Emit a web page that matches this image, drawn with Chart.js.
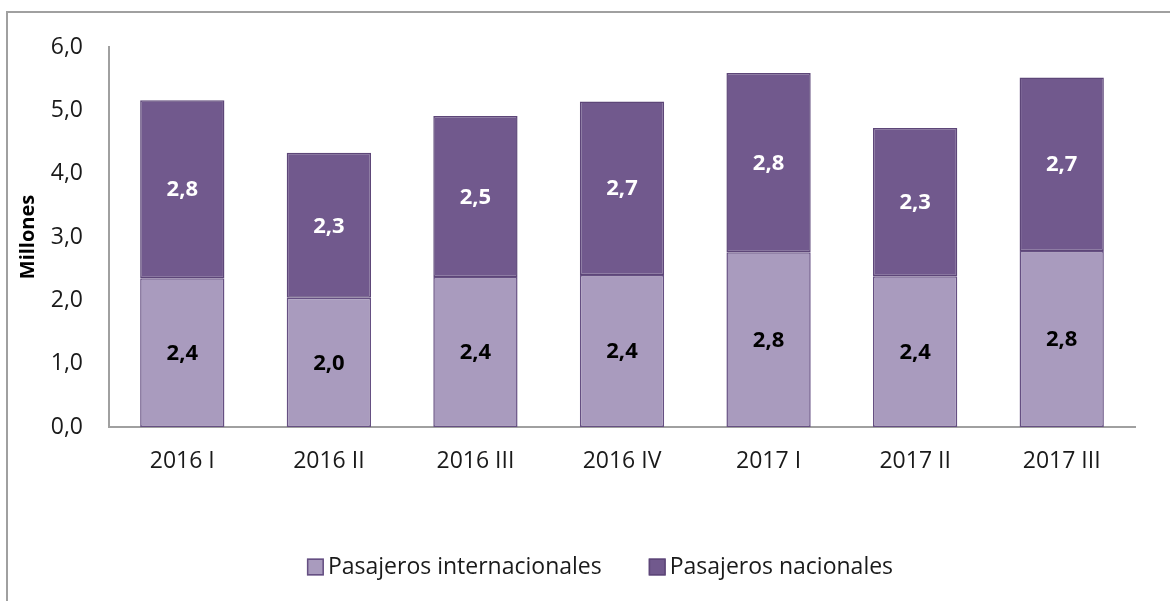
<!DOCTYPE html>
<html>
<head>
<meta charset="utf-8">
<script src="https://cdn.jsdelivr.net/npm/chart.js@4/dist/chart.umd.min.js"></script>
<style>
  html, body { margin: 0; padding: 0; background: #fff; overflow: hidden; }
  #frame { position: absolute; left: 6px; top: 11px; width: 1300px; height: 700px;
           border-left: 2px solid #a0a0a0; border-top: 2px solid #a0a0a0; }
  #wrap { position: absolute; left: 0; top: 0; width: 1170px; height: 601px; }
</style>
</head>
<body>
<div id="frame"></div>
<div id="wrap"><canvas id="c" width="1170" height="601"></canvas></div>
<script>
// periods (quarters)
const categories = ['2016 I', '2016 II', '2016 III', '2016 IV', '2017 I', '2017 II', '2017 III'];
// millions of passengers
const internacionales = [2.35, 2.04, 2.37, 2.40, 2.76, 2.38, 2.78];
const nacionales = [2.81, 2.29, 2.54, 2.74, 2.83, 2.34, 2.74];
const seriesNames = ['Pasajeros internacionales', 'Pasajeros nacionales'];
const yTicks = [0, 1, 2, 3, 4, 5, 6];

const FONT = "'Open Sans', 'Noto Sans', sans-serif";
const fmt = v => v.toFixed(1).replace('.', ',');

// values written inside each bar segment
const segmentLabels = {
  id: 'segmentLabels',
  afterDatasetsDraw(chart) {
    const ctx = chart.ctx;
    ctx.save();
    ctx.font = 'bold 22px ' + FONT;
    ctx.textAlign = 'center';
    ctx.textBaseline = 'middle';
    chart.data.datasets.forEach((ds, i) => {
      const meta = chart.getDatasetMeta(i);
      ctx.fillStyle = ds.labelColor;
      meta.data.forEach((bar, j) => {
        const y = (bar.y + bar.base) / 2;
        ctx.fillText(fmt(ds.data[j]), bar.x, y + 1);
      });
    });
    ctx.restore();
  }
};

// legend drawn below the plot, spaced like the original
const bottomLegend = {
  id: 'bottomLegend',
  afterDraw(chart) {
    const ctx = chart.ctx;
    const box = 17, gapText = 4, gapItem = 47, cy = 567;
    ctx.save();
    ctx.font = '23px ' + FONT;
    ctx.textBaseline = 'middle';
    const items = chart.data.datasets.map(ds => ({
      ds, w: ctx.measureText(ds.label).width
    }));
    let total = 0;
    items.forEach((it, k) => { total += box + gapText + it.w + (k ? gapItem : 0); });
    let x = 600 - total / 2;
    items.forEach(it => {
      ctx.fillStyle = it.ds.backgroundColor;
      ctx.strokeStyle = it.ds.borderColor;
      ctx.lineWidth = 1.5;
      ctx.fillRect(x, cy - box / 2, box, box);
      ctx.strokeRect(x + 0.75, cy - box / 2 + 0.75, box - 1.5, box - 1.5);
      ctx.fillStyle = '#1a1a1a';
      ctx.fillText(it.ds.label, x + box + gapText, cy);
      x += box + gapText + it.w + gapItem;
    });
    ctx.restore();
  }
};

new Chart(document.getElementById('c'), {
  type: 'bar',
  data: {
    labels: categories,
    datasets: [
      {
        label: seriesNames[0],
        data: internacionales,
        backgroundColor: '#a99bbe',
        borderColor: '#654f82',
        borderWidth: 1.5,
        borderSkipped: false,
        labelColor: '#000',
        barPercentage: 0.575,
        categoryPercentage: 1,
      },
      {
        label: seriesNames[1],
        data: nacionales,
        backgroundColor: '#71598d',
        borderColor: '#5d4678',
        borderWidth: 1.5,
        borderSkipped: false,
        labelColor: '#fff',
        barPercentage: 0.575,
        categoryPercentage: 1,
      },
    ],
  },
  options: {
    responsive: false,
    animation: false,
    layout: { padding: { left: 0, top: 47, right: 35, bottom: 0 } },
    plugins: { legend: { display: false }, tooltip: { enabled: false } },
    scales: {
      x: {
        stacked: true,
        grid: { display: false, drawTicks: false },
        border: { display: true, color: '#a0a0a0', width: 2 },
        ticks: { color: '#1a1a1a', font: { family: FONT, size: 23 }, padding: 21 },
        afterFit: s => { s.height = 601 - 427; },
      },
      y: {
        stacked: true,
        min: 0,
        max: 6,
        afterBuildTicks: s => { s.ticks = yTicks.map(v => ({ value: v })); },
        grid: { display: false, drawTicks: false },
        border: { display: true, color: '#a0a0a0', width: 2 },
        ticks: { color: '#1a1a1a', font: { family: FONT, size: 23 }, padding: 26, callback: v => fmt(v) },
        title: {
          display: true,
          text: 'Millones',
          color: '#000',
          font: { family: FONT, size: 20, weight: 'bold' },
          padding: { top: 16, bottom: 0 },
        },
        afterFit: s => { s.width = 109; },
      },
    },
  },
  plugins: [segmentLabels, bottomLegend],
});
</script>
</body>
</html>
